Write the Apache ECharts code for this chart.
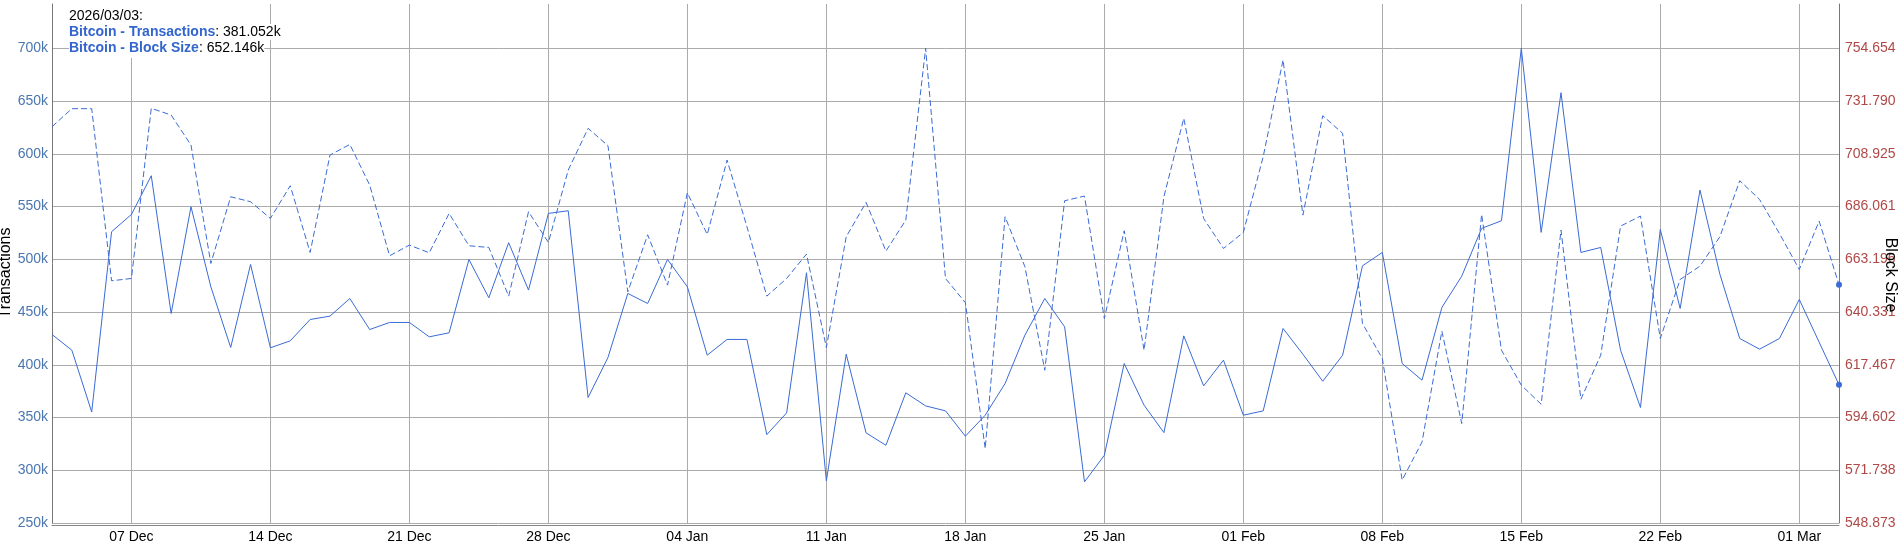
<!DOCTYPE html>
<html><head><meta charset="utf-8">
<script src="https://cdn.jsdelivr.net/npm/echarts@6/dist/echarts.min.js"></script>
<style>html,body{margin:0;padding:0;background:#fff}#c{width:1899px;height:545px}</style>
</head><body><div id="c"></div>
<script>
const dates = [
 '2025-12-03','2025-12-04','2025-12-05','2025-12-06','2025-12-07','2025-12-08','2025-12-09','2025-12-10','2025-12-11','2025-12-12',
 '2025-12-13','2025-12-14','2025-12-15','2025-12-16','2025-12-17','2025-12-18','2025-12-19','2025-12-20','2025-12-21','2025-12-22',
 '2025-12-23','2025-12-24','2025-12-25','2025-12-26','2025-12-27','2025-12-28','2025-12-29','2025-12-30','2025-12-31',
 '2026-01-01','2026-01-02','2026-01-03','2026-01-04','2026-01-05','2026-01-06','2026-01-07','2026-01-08','2026-01-09','2026-01-10',
 '2026-01-11','2026-01-12','2026-01-13','2026-01-14','2026-01-15','2026-01-16','2026-01-17','2026-01-18','2026-01-19','2026-01-20',
 '2026-01-21','2026-01-22','2026-01-23','2026-01-24','2026-01-25','2026-01-26','2026-01-27','2026-01-28','2026-01-29','2026-01-30','2026-01-31',
 '2026-02-01','2026-02-02','2026-02-03','2026-02-04','2026-02-05','2026-02-06','2026-02-07','2026-02-08','2026-02-09','2026-02-10',
 '2026-02-11','2026-02-12','2026-02-13','2026-02-14','2026-02-15','2026-02-16','2026-02-17','2026-02-18','2026-02-19','2026-02-20',
 '2026-02-21','2026-02-22','2026-02-23','2026-02-24','2026-02-25','2026-02-26','2026-02-27','2026-02-28',
 '2026-03-01','2026-03-02','2026-03-03'
];
// Bitcoin - Transactions (thousands)
const transactions = [
 428.7,413.8,355.3,526.1,542.5,579.2,448.6,549.8,473.9,416.4,
 495.1,416.1,422.7,442.9,446.1,462.8,433.4,440.1,440.1,426.5,
 430.3,499.8,463.5,515.7,470.8,543.5,546.0,368.9,406.9,
 467.6,458.1,499.8,473.9,409.1,424.0,424.0,333.8,354.4,487.2,
 290.0,410.0,335.4,323.7,373.4,361.0,356.3,332.3,352.2,382.2,
 428.1,462.8,436.0,289.0,314.2,401.2,361.7,335.7,427.4,380.0,404.4,
 352.2,356.3,434.4,410.0,384.4,409.1,493.8,506.5,401.2,385.4,
 454.3,484.0,529.3,536.5,700.0,525.5,657.9,506.5,511.2,413.8,
 359.5,528.3,453.4,565.6,485.9,424.9,414.8,424.9,
 461.9,421.4,381.052
];
// Bitcoin - Block Size
const blockSize = [
 720.67,728.48,728.48,653.87,654.88,728.63,725.73,712.72,661.39,690.30,
 688.14,680.91,695.08,666.16,708.38,712.99,695.37,664.71,669.34,666.01,
 683.08,669.05,668.33,647.22,683.80,670.50,701.87,719.95,712.43,
 649.10,673.80,651.99,692.04,673.97,706.21,677.29,647.22,654.88,665.44,
 624.95,672.96,687.85,666.74,680.18,754.65,654.88,644.40,581.13,681.63,
 659.94,615.11,688.57,690.60,637.53,675.56,623.79,690.30,724.29,680.91,667.89,
 674.83,707.66,749.59,682.35,725.45,717.78,635.36,620.17,567.50,584.00,
 632.03,591.98,682.64,623.79,608.61,600.36,675.85,602.53,621.62,677.58,
 681.92,628.85,654.45,660.23,672.96,697.25,689.15,674.40,
 658.78,679.75,652.146
];
const leftTicks = {min: 250, max: 742, step: 50};
const rightTicks = {min: 548.873, step: 22.8646};
const monthNames = ['Jan','Feb','Mar','Apr','May','Jun','Jul','Aug','Sep','Oct','Nov','Dec'];
const axisTitles = {left: 'Transactions', right: 'Block Size'};

const FONT = "'Liberation Sans', Arial, sans-serif";
const LINE = '#3a6bd6';
const GRID = '#ababab';
const n = dates.length;
const isSunday = (i) => new Date(dates[i] + 'T00:00:00Z').getUTCDay() === 0;
const rightMax = rightTicks.min + (leftTicks.max - leftTicks.min) / leftTicks.step * rightTicks.step;
const lastDate = dates[n - 1].replace(/-/g, '/');

const chart = echarts.init(document.getElementById('c'), null, {renderer: 'canvas'});
chart.setOption({
  animation: false,
  backgroundColor: '#fff',
  grid: {left: 52, right: 60, top: 4, bottom: 22, containLabel: false},
  xAxis: {
    type: 'category', data: dates, boundaryGap: false, offset: 2,
    axisLine: {show: true, lineStyle: {color: '#888', width: 1}},
    axisTick: {show: false},
    axisLabel: {
      interval: (i) => isSunday(i), color: '#000', fontSize: 14, fontFamily: FONT, margin: 5,
      formatter: (v) => { const p = v.split('-'); return p[2] + ' ' + monthNames[+p[1] - 1]; }
    },
    splitLine: {show: true, interval: (i) => isSunday(i), lineStyle: {color: GRID, width: 1}}
  },
  yAxis: [
    {
      type: 'value', min: leftTicks.min, max: leftTicks.max, interval: leftTicks.step,
      axisLine: {show: true, lineStyle: {color: '#777'}},
      axisTick: {show: false},
      axisLabel: {color: '#4a76b2', fontSize: 14, fontFamily: FONT, margin: 4, showMaxLabel: false,
        formatter: (v) => v + 'k'},
      splitLine: {show: true, showMaxLine: false, lineStyle: {color: GRID, width: 1}}
    },
    {
      type: 'value', position: 'right', min: rightTicks.min, max: rightMax, interval: rightTicks.step,
      axisLine: {show: true, lineStyle: {color: '#777'}},
      axisTick: {show: false},
      axisLabel: {color: '#b04848', fontSize: 14, fontFamily: FONT, margin: 6, showMaxLabel: false,
        formatter: (v) => v.toFixed(3)},
      splitLine: {show: false}
    }
  ],
  series: [
    {
      name: 'Bitcoin - Transactions', type: 'line', yAxisIndex: 0, data: transactions,
      showSymbol: false, lineStyle: {color: LINE, width: 1}, itemStyle: {color: LINE},
      markPoint: {symbol: 'circle', symbolSize: 6, itemStyle: {color: LINE}, label: {show: false},
        data: [{coord: [dates[n - 1], transactions[n - 1]]}]}
    },
    {
      name: 'Bitcoin - Block Size', type: 'line', yAxisIndex: 1, data: blockSize,
      showSymbol: false, lineStyle: {color: LINE, width: 1, type: [6, 3]}, itemStyle: {color: LINE},
      markPoint: {symbol: 'circle', symbolSize: 6, itemStyle: {color: LINE}, label: {show: false},
        data: [{coord: [dates[n - 1], blockSize[n - 1]]}]}
    }
  ],
  graphic: [
    {type: 'text', x: 6, y: 273, rotation: Math.PI / 2, z: 100, style: {text: axisTitles.left,
      font: '16px ' + FONT, fill: '#000', align: 'center', verticalAlign: 'middle'}},
    {type: 'text', x: 1890, y: 275, rotation: -Math.PI / 2, z: 100, style: {text: axisTitles.right,
      font: '16px ' + FONT, fill: '#000', align: 'center', verticalAlign: 'middle'}},
    {type: 'text', left: 69, top: 4, z: 100, style: {text: lastDate + ':', font: '14px ' + FONT, fill: '#000',
      backgroundColor: '#fff', padding: [4, 0, 0, 0], lineHeight: 16}},
    {type: 'text', left: 69, top: 24, z: 100, style: {
      text: '{b|Bitcoin - Transactions}{n|: ' + transactions[n - 1].toFixed(3) + 'k}',
      backgroundColor: '#fff', lineHeight: 16,
      rich: {b: {font: 'bold 14px ' + FONT, fill: '#3366cc', lineHeight: 16}, n: {font: '14px ' + FONT, fill: '#000', lineHeight: 16}}}},
    {type: 'text', left: 69, top: 40, z: 100, style: {
      text: '{b|Bitcoin - Block Size}{n|: ' + blockSize[n - 1].toFixed(3) + 'k}',
      backgroundColor: '#fff', lineHeight: 16, padding: [0, 0, 2, 0],
      rich: {b: {font: 'bold 14px ' + FONT, fill: '#3366cc', lineHeight: 16}, n: {font: '14px ' + FONT, fill: '#000', lineHeight: 16}}}}
  ]
});
</script></body></html>
